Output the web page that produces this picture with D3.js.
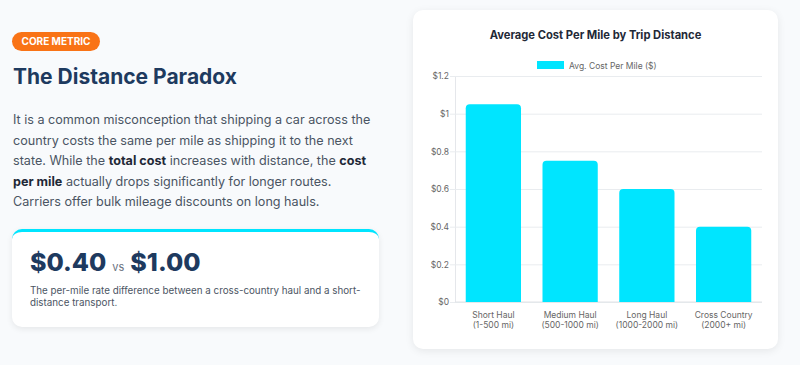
<!DOCTYPE html>
<html lang="en">
<head>
<meta charset="utf-8">
<script src="https://d3js.org/d3.v7.min.js"></script>
<style>
    body { margin: 0; width: 800px; height: 365px; background: #f8fafc; font-family: Inter, "Noto Sans", sans-serif; position: relative; overflow: hidden; }
    .badge { position: absolute; left: 12px; top: 32px; height: 19px; line-height: 19px; padding: 0 9.5px; background: #f97316; color: #fff; font-size: 10px; font-weight: 700; border-radius: 10px; }
    h2 { position: absolute; left: 13px; top: 64px; margin: 0; font-size: 21px; font-weight: 700; color: #1e3a5f; }
    p.lead { position: absolute; left: 13px; top: 110px; width: 380px; margin: 0; font-size: 12.6px; line-height: 20.5px; color: #4a5563; white-space: nowrap; }
    p.lead b { color: #1f2937; }
    .stat { position: absolute; left: 12px; top: 229px; width: 367px; height: 98px; background: #fff; border-top: 3px solid #00e5ff; border-radius: 10px; box-shadow: 0 2px 6px rgba(0,0,0,0.08); box-sizing: border-box; }
    .stat .nums { position: absolute; left: 18px; top: 15px; font-size: 25px; font-weight: 800; color: #1e3a5f; }
    .stat .vs { font-size: 11px; font-weight: 400; color: #6b7280; margin: 0 6px; }
    .stat .desc { position: absolute; left: 18px; top: 53px; width: 345px; font-size: 9.8px; line-height: 12px; color: #4b5563; }
    .chart-card { position: absolute; left: 413px; top: 10px; width: 365px; height: 339px; background: #fff; border-radius: 10px; box-shadow: 0 2px 8px rgba(0,0,0,0.08); }
</style>
</head>
<body>
    <div class="badge">CORE METRIC</div>
    <h2>The Distance Paradox</h2>
    <p class="lead">It is a common misconception that shipping a car across the<br>country costs the same per mile as shipping it to the next<br>state. While the <b>total cost</b> increases with distance, the <b>cost</b><br><b>per mile</b> actually drops significantly for longer routes.<br>Carriers offer bulk mileage discounts on long hauls.</p>
    <div class="stat">
        <div class="nums">$0.40<span class="vs">vs</span>$1.00</div>
        <div class="desc">The per-mile rate difference between a cross-country haul and a short-<br>distance transport.</div>
    </div>
    <div class="chart-card"></div>

<script>
    // chart data
    const categories = [["Short Haul", "(1-500 mi)"], ["Medium Haul", "(500-1000 mi)"], ["Long Haul", "(1000-2000 mi)"], ["Cross Country", "(2000+ mi)"]];
    const costPerMile = [1.05, 0.75, 0.60, 0.40];
    const yTicks = [0, 0.2, 0.4, 0.6, 0.8, 1, 1.2];
    const seriesName = "Avg. Cost Per Mile ($)";
    const barColor = "#00e5ff";

    const width = 365;
    const height = 339;
    const plot = { left: 42, right: 349, top: 66, bottom: 292 };

    const svg = d3.select(".chart-card")
        .append("svg")
        .attr("width", width)
        .attr("height", height)
        .style("font-family", "Inter, sans-serif");

    // title
    svg.append("text")
        .attr("x", width / 2).attr("y", 29)
        .attr("text-anchor", "middle")
        .attr("font-size", 11.2).attr("font-weight", 700)
        .attr("fill", "#1f2937")
        .text("Average Cost Per Mile by Trip Distance");

    // legend
    svg.append("rect")
        .attr("x", 124).attr("y", 51).attr("width", 27).attr("height", 8)
        .attr("fill", barColor);
    svg.append("text")
        .attr("x", 156).attr("y", 58.5)
        .attr("font-size", 8.5).attr("fill", "#666")
        .text(seriesName);

    const x = d3.scaleBand()
        .domain(categories.map(d => d[0]))
        .range([plot.left, plot.right])
        .padding(0);
    const y = d3.scaleLinear()
        .domain([0, 1.2])
        .range([plot.bottom, plot.top]);

    // y grid + labels
    const yAxis = svg.append("g")
        .attr("transform", "translate(" + plot.left + ",0)")
        .call(d3.axisLeft(y).tickValues(yTicks).tickSize(-(plot.right - plot.left)).tickFormat(d => "$" + d3.format("~g")(d)).tickPadding(6));
    yAxis.select(".domain").attr("stroke", "#e5e7eb");
    yAxis.selectAll(".tick line").attr("stroke", "#e9ecef").attr("x1", -5);
    yAxis.selectAll(".tick text").attr("font-size", 8.5).attr("fill", "#666").attr("font-family", "Inter, sans-serif");

    // bottom axis line
    svg.append("line")
        .attr("x1", plot.left).attr("x2", plot.right)
        .attr("y1", y(0)).attr("y2", y(0))
        .attr("stroke", "#e0e3e7");

    // bars, rounded top corners
    const barW = x.bandwidth() * 0.72;
    const r = 4;
    svg.selectAll(".bar")
        .data(costPerMile)
        .enter().append("path")
        .attr("class", "bar")
        .attr("fill", barColor)
        .attr("d", (d, i) => {
            const x0 = x(categories[i][0]) + (x.bandwidth() - barW) / 2;
            const x1 = x0 + barW;
            const yt = y(d), yb = y(0);
            return `M${x0},${yb}V${yt + r}Q${x0},${yt} ${x0 + r},${yt}H${x1 - r}Q${x1},${yt} ${x1},${yt + r}V${yb}Z`;
        });

    // x labels (two lines)
    const xl = svg.selectAll(".xlab")
        .data(categories)
        .enter().append("text")
        .attr("class", "xlab")
        .attr("text-anchor", "middle")
        .attr("font-size", 8.5).attr("fill", "#666");
    xl.append("tspan")
        .attr("x", d => x(d[0]) + x.bandwidth() / 2).attr("y", 308)
        .text(d => d[0]);
    xl.append("tspan")
        .attr("x", d => x(d[0]) + x.bandwidth() / 2).attr("y", 317.5)
        .text(d => d[1]);
</script>
</body>
</html>
